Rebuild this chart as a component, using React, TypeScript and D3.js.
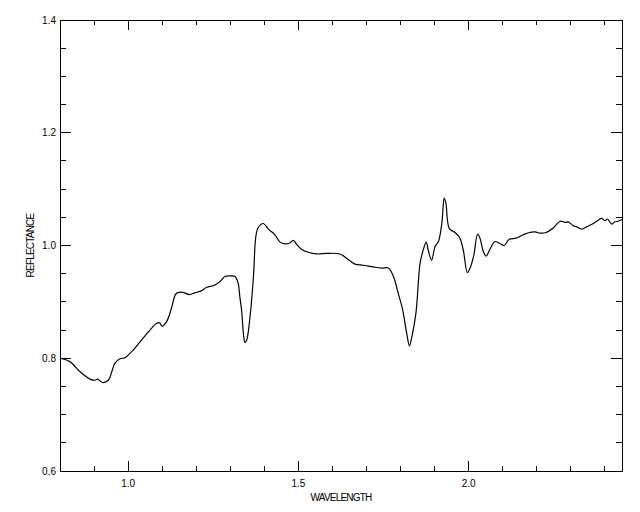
import React from "react";
import * as d3 from "d3";

const wavelength = [
  0.800, 0.829, 0.859, 0.888, 0.903, 0.910, 0.925, 0.942, 0.952, 0.961, 0.976, 0.991,
  1.006, 1.020, 1.035, 1.064, 1.084, 1.092, 1.100, 1.113, 1.126, 1.138, 1.144, 1.160,
  1.180, 1.196, 1.216, 1.231, 1.252, 1.270, 1.284, 1.299, 1.314, 1.323, 1.328, 1.333,
  1.340, 1.343, 1.348, 1.358, 1.368, 1.375, 1.382, 1.397, 1.412, 1.431, 1.446, 1.461,
  1.473, 1.485, 1.495, 1.510, 1.529, 1.554, 1.583, 1.622, 1.642, 1.666, 1.690, 1.720,
  1.744, 1.764, 1.779, 1.793, 1.806, 1.818, 1.826, 1.833, 1.845, 1.857, 1.865, 1.875,
  1.881, 1.891, 1.901, 1.911, 1.921, 1.928, 1.933, 1.943, 1.960, 1.974, 1.984, 1.996,
  2.004, 2.015, 2.026, 2.033, 2.043, 2.051, 2.062, 2.077, 2.090, 2.104, 2.119, 2.139,
  2.160, 2.178, 2.195, 2.209, 2.227, 2.248, 2.268, 2.283, 2.292, 2.307, 2.317, 2.332,
  2.346, 2.366, 2.383, 2.390, 2.400, 2.407, 2.420, 2.429, 2.439, 2.450,
];

const reflectance = [
  0.800, 0.794, 0.776, 0.763, 0.761, 0.763, 0.757, 0.761, 0.776, 0.791, 0.799, 0.801,
  0.809, 0.818, 0.829, 0.850, 0.862, 0.863, 0.857, 0.865, 0.886, 0.912, 0.916, 0.917,
  0.913, 0.916, 0.920, 0.926, 0.929, 0.936, 0.945, 0.946, 0.945, 0.933, 0.909, 0.886,
  0.835, 0.828, 0.832, 0.874, 0.945, 1.016, 1.032, 1.039, 1.029, 1.019, 1.006, 1.003,
  1.004, 1.009, 1.002, 0.993, 0.988, 0.985, 0.986, 0.985, 0.977, 0.967, 0.965, 0.962,
  0.960, 0.960, 0.945, 0.915, 0.886, 0.844, 0.822, 0.838, 0.880, 0.968, 0.989, 1.006,
  0.992, 0.974, 0.998, 1.007, 1.039, 1.084, 1.075, 1.030, 1.023, 1.013, 0.992, 0.952,
  0.960, 0.983, 1.020, 1.013, 0.989, 0.981, 0.993, 1.007, 1.004, 1.000, 1.011, 1.013,
  1.019, 1.023, 1.024, 1.022, 1.023, 1.031, 1.043, 1.041, 1.042, 1.035, 1.033, 1.029,
  1.033, 1.039, 1.046, 1.048, 1.044, 1.047, 1.038, 1.042, 1.043, 1.046,
];

const xMajorTicks = [1.0, 1.5, 2.0];
const xMajorLabels = ["1.0", "1.5", "2.0"];
const yMajorTicks = [0.6, 0.8, 1.0, 1.2, 1.4];
const yMajorLabels = ["0.6", "0.8", "1.0", "1.2", "1.4"];
const xTitle = "WAVELENGTH";
const yTitle = "REFLECTANCE";

export default function App() {
  const W = 640, H = 512;
  const left = 60, right = 622, top = 20, bottom = 471;
  const x = d3.scaleLinear().domain([0.8, 2.45]).range([left, right]);
  const y = d3.scaleLinear().domain([0.6, 1.4]).range([bottom, top]);

  const xMinor = d3.range(9, 25).map((v) => v / 10).filter((v) => !xMajorTicks.some((m) => Math.abs(m - v) < 1e-6));
  const yMinor = d3.range(12, 29).map((v) => v / 20).filter((v) => !yMajorTicks.some((m) => Math.abs(m - v) < 1e-6));

  const pts: [number, number][] = wavelength.map((w, i) => [w, reflectance[i]]);
  const line = d3
    .line<[number, number]>()
    .x((d) => x(d[0]))
    .y((d) => y(d[1]))
    .curve(d3.curveCatmullRom.alpha(0.5));

  const font = "'Liberation Sans', Arial, Helvetica, sans-serif";

  return (
    <svg width={W} height={H} style={{ position: "absolute", left: 0, top: 0, background: "#fff" }}>
      <rect x={0} y={0} width={W} height={H} fill="#fff" />
      <g stroke="#000" strokeWidth={1} shapeRendering="crispEdges">
        <rect x={left} y={top} width={right - left} height={bottom - top} fill="none" />
        {xMajorTicks.map((t) => (
          <g key={"xM" + t}>
            <line x1={x(t)} x2={x(t)} y1={bottom} y2={bottom - 10} />
            <line x1={x(t)} x2={x(t)} y1={top} y2={top + 10} />
          </g>
        ))}
        {xMinor.map((t) => (
          <g key={"xm" + t}>
            <line x1={x(t)} x2={x(t)} y1={bottom} y2={bottom - 5} />
            <line x1={x(t)} x2={x(t)} y1={top} y2={top + 5} />
          </g>
        ))}
        {yMajorTicks.map((t) => (
          <g key={"yM" + t}>
            <line x1={left} x2={left + 11} y1={y(t)} y2={y(t)} />
            <line x1={right} x2={right - 11} y1={y(t)} y2={y(t)} />
          </g>
        ))}
        {yMinor.map((t) => (
          <g key={"ym" + t}>
            <line x1={left} x2={left + 6} y1={y(t)} y2={y(t)} />
            <line x1={right} x2={right - 6} y1={y(t)} y2={y(t)} />
          </g>
        ))}
      </g>
      <path d={line(pts) || ""} fill="none" stroke="#000" strokeWidth={1.2} />
      <g fontFamily={font} fontSize={10} fill="#000">
        {xMajorTicks.map((t, i) => (
          <text key={"xl" + t} x={x(t)} y={487} textAnchor="middle">
            {xMajorLabels[i]}
          </text>
        ))}
        {yMajorTicks.map((t, i) => (
          <text key={"yl" + t} x={56} y={y(t) + 3.5} textAnchor="end">
            {yMajorLabels[i]}
          </text>
        ))}
        <text x={(left + right) / 2} y={500.5} textAnchor="middle" letterSpacing={-0.8}>
          {xTitle}
        </text>
        <text
          transform={`translate(34, ${(top + bottom) / 2}) rotate(-90)`}
          textAnchor="middle"
          letterSpacing={-0.8}
        >
          {yTitle}
        </text>
      </g>
    </svg>
  );
}
